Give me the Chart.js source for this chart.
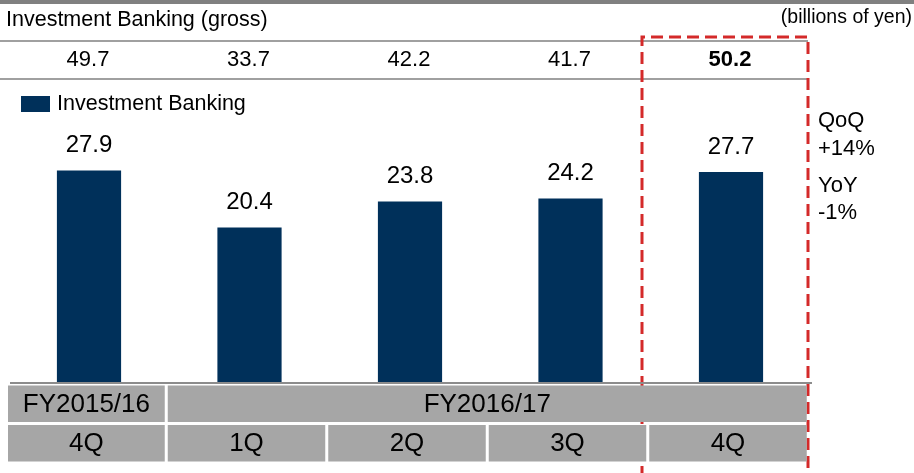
<!DOCTYPE html>
<html>
<head>
<meta charset="utf-8">
<script src="https://cdn.jsdelivr.net/npm/chart.js@4"></script>
<style>
  html, body { margin:0; padding:0; background:#fff; }
  #wrap { position:relative; width:914px; height:473px; }
</style>
</head>
<body>
<div id="wrap"><canvas id="chart" width="914" height="473"></canvas></div>
<script>
const quarters = ["4Q", "1Q", "2Q", "3Q", "4Q"];
const fiscalYears = ["FY2015/16", "FY2016/17"];
const fiscalSpans = [1, 4];
const grossValues = ["49.7", "33.7", "42.2", "41.7", "50.2"];
const ibValues = [27.9, 20.4, 23.8, 24.2, 27.7];
const seriesName = "Investment Banking";
const changeNotes = ["QoQ", "+14%", "YoY", "-1%"];

const FONT = "'Liberation Sans', Arial, sans-serif";
const BAR = "#00305a";

const decor = {
  id: "decor",
  beforeDraw(chart){
    const c = chart.ctx;
    c.save();
    c.fillStyle = "#fff";
    c.fillRect(0, 0, chart.width, chart.height);
    // top band
    c.fillStyle = "#808080";
    c.fillRect(0, 0, chart.width, 4);
    c.restore();
  },
  afterDraw(chart){
    const c = chart.ctx;
    const xs = chart.scales.x;
    const ys = chart.scales.y;
    const area = chart.chartArea;
    const step = xs.getPixelForValue(1) - xs.getPixelForValue(0);
    c.save();

    // header texts
    c.fillStyle = "#000";
    c.textBaseline = "middle";
    c.font = "21.5px " + FONT;
    c.textAlign = "left";
    c.fillText("Investment Banking (gross)", 6, 20);
    c.font = "19.5px " + FONT;
    c.textAlign = "right";
    c.fillText("(billions of yen)", 912, 18);

    // value row lines
    c.strokeStyle = "#a0a0a0";
    c.lineWidth = 2;
    [41, 79].forEach(y => {
      c.beginPath(); c.moveTo(0, y); c.lineTo(808, y); c.stroke();
    });

    // gross row
    c.textAlign = "center";
    grossValues.forEach((v, i) => {
      const x = xs.getPixelForValue(i);
      c.font = (i === grossValues.length - 1 ? "bold " : "") + "22px " + FONT;
      c.fillText(v, x - 1, 60);
    });

    // legend
    c.fillStyle = BAR;
    c.fillRect(21, 96, 29, 16);
    c.fillStyle = "#000";
    c.textAlign = "left";
    c.font = "21.5px " + FONT;
    c.fillText(seriesName, 57, 104);

    // bar labels
    c.textAlign = "center";
    c.font = "24px " + FONT;
    const meta = chart.getDatasetMeta(0);
    meta.data.forEach((bar, i) => {
      c.fillText(ibValues[i].toFixed(1), bar.x, bar.y - 25);
    });

    // highlight box on the latest quarter (drawn under the table)
    const last = xs.getPixelForValue(quarters.length - 1);
    c.strokeStyle = "#d42a2a";
    c.lineWidth = 3;
    c.setLineDash([12, 6]);
    c.beginPath();
    c.moveTo(last - 89, chart.height + 5);
    c.lineTo(last - 89, 37);
    c.lineTo(last + 77, 37);
    c.lineTo(last + 77, chart.height + 5);
    c.stroke();
    c.setLineDash([]);

    // baseline
    const base = ys.getPixelForValue(0);
    c.strokeStyle = "#8c8c8c";
    c.lineWidth = 2;
    c.beginPath(); c.moveTo(10, base + 0.5); c.lineTo(812, base + 0.5); c.stroke();

    // table
    const edges = [];
    for (let i = 0; i <= quarters.length; i++) edges.push(area.left + step * i - 3);
    edges[0] = 8;
    const r1 = [base + 3, base + 39.5];
    const r2 = [base + 42.5, base + 79];
    c.font = "26px " + FONT;
    c.textAlign = "center";
    let k = 0;
    fiscalYears.forEach((fy, j) => {
      const x0 = edges[k] + (k === 0 ? 0 : 1.5);
      const x1 = edges[k + fiscalSpans[j]] - 1.5;
      c.fillStyle = "#a6a6a6";
      c.fillRect(x0, r1[0], x1 - x0, r1[1] - r1[0]);
      c.fillStyle = "#000";
      c.fillText(fy, (x0 + x1) / 2, (r1[0] + r1[1]) / 2 + 1);
      k += fiscalSpans[j];
    });
    quarters.forEach((q, i) => {
      const x0 = edges[i] + (i === 0 ? 0 : 1.5);
      const x1 = edges[i + 1] - 1.5;
      c.fillStyle = "#a6a6a6";
      c.fillRect(x0, r2[0], x1 - x0, r2[1] - r2[0]);
      c.fillStyle = "#000";
      c.fillText(q, (x0 + x1) / 2, (r2[0] + r2[1]) / 2 + 1);
    });

    // QoQ / YoY notes
    c.fillStyle = "#000";
    c.textAlign = "left";
    c.font = "22px " + FONT;
    const noteY = [121, 149, 186, 213];
    changeNotes.forEach((t, i) => c.fillText(t, 818, noteY[i]));

    c.restore();
  }
};

new Chart(document.getElementById("chart"), {
  type: "bar",
  data: {
    labels: quarters,
    datasets: [{
      label: seriesName,
      data: ibValues,
      backgroundColor: BAR,
      borderWidth: 0,
      categoryPercentage: 1,
      barPercentage: 0.4
    }]
  },
  options: {
    responsive: false,
    animation: false,
    layout: { padding: { left: 8.75, right: 102.75, top: 2.5, bottom: 90.5 } },
    plugins: { legend: { display: false }, tooltip: { enabled: false } },
    scales: {
      x: { display: false },
      y: { display: false, min: 0, max: 50 }
    }
  },
  plugins: [decor]
});
</script>
</body>
</html>
